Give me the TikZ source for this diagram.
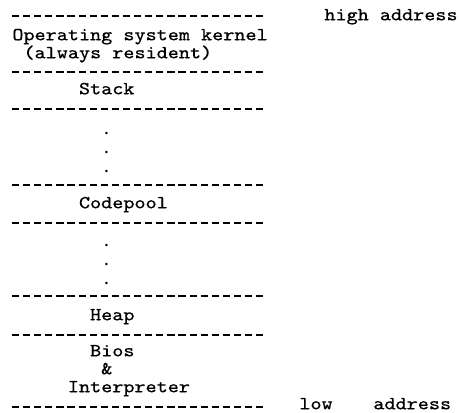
\documentclass[tikz,border=0pt]{standalone}
\usepackage{fontspec}
\newfontfamily\typew[FakeStretch=1.143,FakeBold=0.15]{Latin Modern Mono}
\begin{document}
\begin{tikzpicture}[x=0.5pt,y=-0.5pt,
  sep/.style={line width=0.75pt,dash pattern=on 3.6pt off 1.95pt},
  lbl/.style={inner sep=0pt,anchor=mid west,font=\typew\fontsize{9.25pt}{11pt}\selectfont},
  dotc/.style={inner sep=0pt,anchor=center,font=\typew\fontsize{9.25pt}{11pt}\selectfont}]
\useasboundingbox (0,0) rectangle (462,413);
% separator endpoints
\foreach \n/\y in {a/16,b/72,c/109,d/185,e/223,f/296,g/335,h/407}{
  \coordinate (\n1) at (12,\y);
  \coordinate (\n2) at (265,\y);
  \draw[sep] (\n1) -- (\n2);
}
\node[lbl] (hi) at (324,16) {high address};
\node[lbl] (os) at (12,36) {Operating system kernel};
\node[lbl] (res) at (23.1,54) {(always resident)};
\node[lbl] (stack) at (78.6,90) {Stack};
\node[dotc] (d1) at (106.4,133) {.};
\node[dotc] (d2) at (106.4,152) {.};
\node[dotc] (d3) at (106.4,171) {.};
\node[lbl] (code) at (78.6,204) {Codepool};
\node[dotc] (d4) at (106.4,245) {.};
\node[dotc] (d5) at (106.4,264) {.};
\node[dotc] (d6) at (106.4,283) {.};
\node[lbl] (heap) at (89.7,316) {Heap};
\node[lbl] (bios) at (89.7,352) {Bios};
\node[lbl] (amp) at (100.8,370) {\&};
\node[lbl] (interp) at (67.5,388) {Interpreter};
\node[lbl] (low) at (299,405) {low};
\node[lbl] (addr) at (373,405) {address};
\end{tikzpicture}
\end{document}
